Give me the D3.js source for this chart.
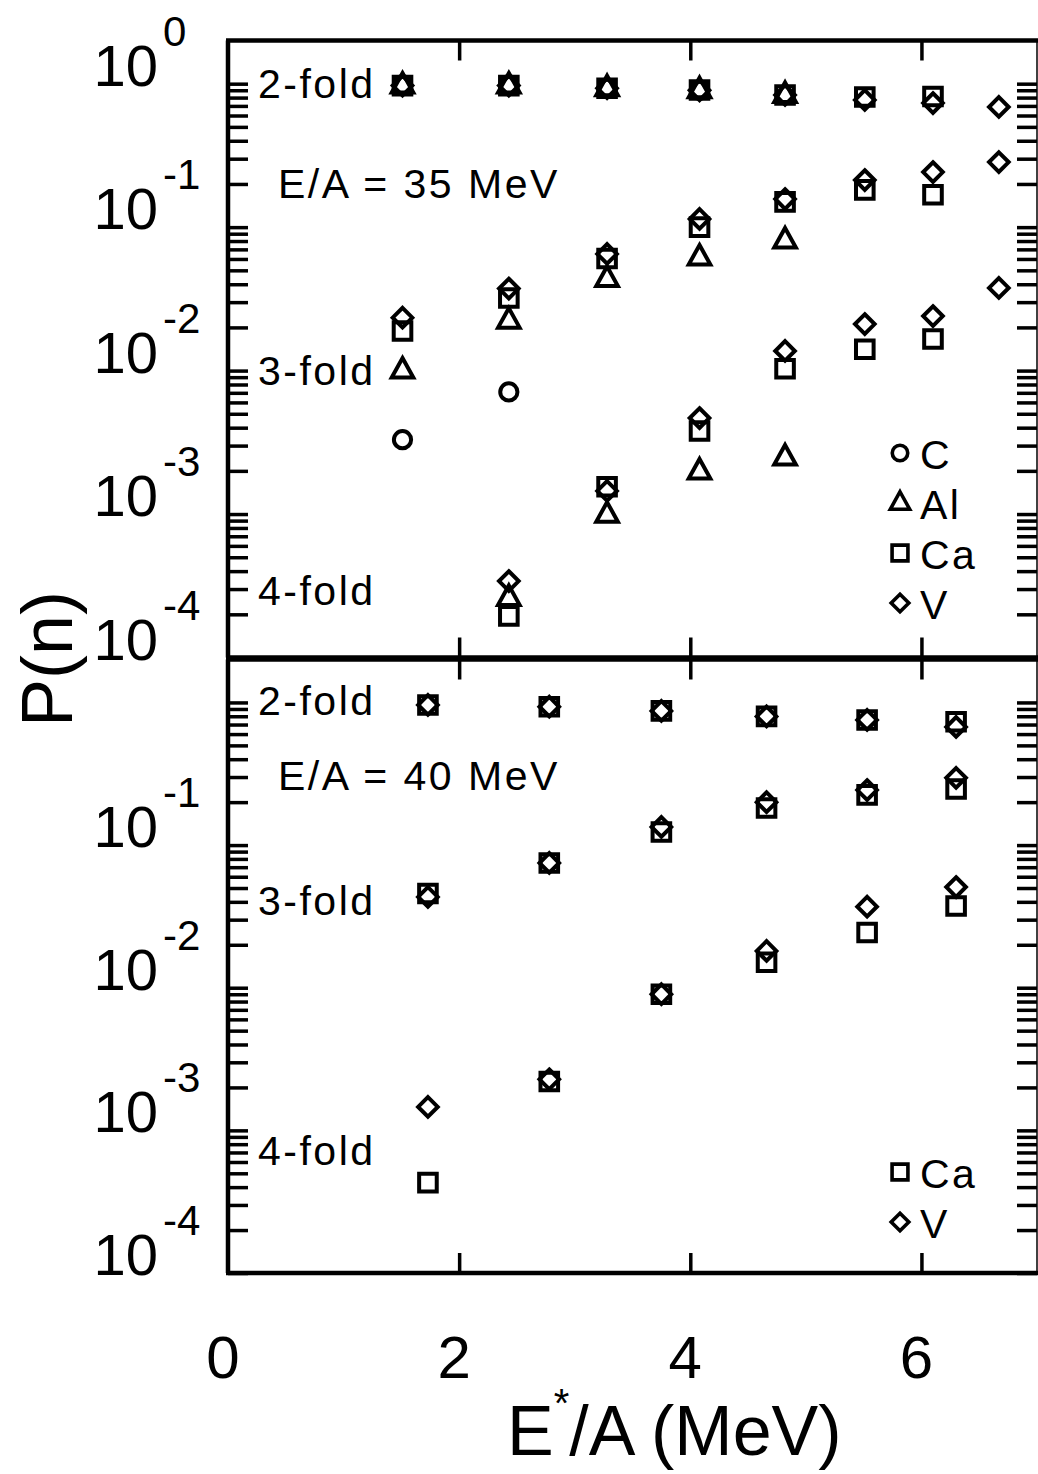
<!DOCTYPE html>
<html>
<head>
<meta charset="utf-8">
<script src="https://cdn.jsdelivr.net/npm/d3@7"></script>
<style>
  body { margin: 0; background: #fff; }
  text { font-family: "Liberation Sans", Arial, Helvetica, sans-serif; fill: #000; }
</style>
</head>
<body>
<svg id="chart" width="1038" height="1474"></svg>
<script>
// ---- E/A = 35 MeV : excitation-energy bins and fragment-multiplicity probabilities ----
const energy35 = [1.51, 2.43, 3.28, 4.08, 4.82, 5.51, 6.10, 6.67];
const c35_2  = [0.98, 0.98, 0.93, 0.90, null, null, null, null];
const c35_3  = [3.3e-3, 7.1e-3, null, null, null, null, null, null];
const al35_2 = [0.97, 0.97, 0.93, 0.90, 0.834, null, null, null];
const al35_3 = [0.0100, 0.0223, 0.0435, 0.0614, 0.0807, null, null, null];
const al35_4 = [null, 2.6e-4, 9.9e-4, 1.98e-3, 2.48e-3, null, null, null];
const ca35_2 = [0.97, 0.97, 0.93, 0.904, 0.834, 0.808, 0.814, null];
const ca35_3 = [0.0189, 0.0321, 0.0604, 0.100, 0.150, 0.182, 0.168, null];
const ca35_4 = [null, 1.95e-4, 1.55e-3, 3.79e-3, 0.0103, 0.0141, 0.0166, null];
const v35_2  = [0.97, 0.97, 0.93, 0.90, 0.834, 0.77, 0.733, 0.688];
const v35_3  = [0.0234, 0.0373, 0.065, 0.114, 0.157, 0.213, 0.242, 0.284];
const v35_4  = [null, 3.41e-4, 1.45e-3, 4.67e-3, 0.0137, 0.0211, 0.024, 0.0377];

// ---- E/A = 40 MeV ----
const energy40 = [1.73, 2.78, 3.75, 4.66, 5.53, 6.30];
const ca40_2 = [0.96, 0.933, 0.872, 0.798, 0.754, 0.733];
const ca40_3 = [0.0458, 0.0749, 0.1236, 0.182, 0.225, 0.247];
const ca40_4 = [4.3e-4, 2.2e-3, 9.0e-3, 0.0151, 0.0244, 0.0374];
const v40_2  = [0.96, 0.933, 0.872, 0.798, 0.754, 0.673];
const v40_3  = [0.0433, 0.0749, 0.134, 0.200, 0.243, 0.296];
const v40_4  = [1.46e-3, 2.28e-3, 9.0e-3, 0.0181, 0.037, 0.0508];

// ---- axis ticks and labels ----
const xTickValues = [0, 2, 4, 6];
const yLabelsTop = [1, 1e-1, 1e-2, 1e-3, 1e-4];
const yLabelsBottom = [1e-1, 1e-2, 1e-3, 1e-4];
const foldLabels = ["2-fold", "3-fold", "4-fold"];
const beamLabels = ["E/A = 35 MeV", "E/A = 40 MeV"];

const svg = d3.select("#chart");
const LEFT = 228, RIGHT = 1037;
const x = d3.scaleLinear().domain([0, 7]).range([LEFT, RIGHT]);

// hollow marker outlines, centred on the data point
function markerPath(shape) {
  const p = d3.path();
  if (shape === "square") {
    p.rect(-8.8, -8.8, 17.6, 17.6);
  } else if (shape === "diamond") {
    p.moveTo(0, -9.8); p.lineTo(9.8, 0); p.lineTo(0, 9.8); p.lineTo(-9.8, 0); p.closePath();
  } else if (shape === "triangle") {
    p.moveTo(0, -12.5); p.lineTo(10.8, 7); p.lineTo(-10.8, 7); p.closePath();
  } else {
    p.arc(0, 0, 8.6, 0, 2 * Math.PI);
  }
  return p.toString();
}

function zip(energies, values) {
  return energies.map((e, i) => ({ e, v: values[i] })).filter(d => d.v != null);
}

const panels = [
  {
    top: 40.5, bottom: 657.5, yLabels: yLabelsTop, beam: beamLabels[0],
    labelY: { fold: [98, 385, 605], beam: 198 },
    series: [
      { name: "C",  shape: "circle",   pts: [c35_2, c35_3].flatMap(a => zip(energy35, a)) },
      { name: "Al", shape: "triangle", pts: [al35_2, al35_3, al35_4].flatMap(a => zip(energy35, a)) },
      { name: "Ca", shape: "square",   pts: [ca35_2, ca35_3, ca35_4].flatMap(a => zip(energy35, a)) },
      { name: "V",  shape: "diamond",  pts: [v35_2, v35_3, v35_4].flatMap(a => zip(energy35, a)) }
    ],
    legendY: 453
  },
  {
    top: 659.5, bottom: 1273, yLabels: yLabelsBottom, beam: beamLabels[1],
    labelY: { fold: [715, 915, 1165], beam: 790 },
    series: [
      { name: "Ca", shape: "square",  pts: [ca40_2, ca40_3, ca40_4].flatMap(a => zip(energy40, a)) },
      { name: "V",  shape: "diamond", pts: [v40_2, v40_3, v40_4].flatMap(a => zip(energy40, a)) }
    ],
    legendY: 1172
  }
];

// decade and sub-decade tick values between 1e-4 and 1
const minorTicks = [];
for (let k = -4; k < 0; k++) for (let m = 1; m <= 9; m++) minorTicks.push(m * Math.pow(10, k));
minorTicks.push(1);

panels.forEach(P => {
  const y = d3.scaleLog().domain([1e-4, 2]).range([P.bottom, P.top]);
  const g = svg.append("g");

  // left and right logarithmic tick rows (inward)
  const left = d3.axisRight(y).tickValues(minorTicks).tickSize(20).tickFormat("");
  const right = d3.axisLeft(y).tickValues(minorTicks).tickSize(20).tickFormat("");
  g.append("g").attr("transform", `translate(${LEFT},0)`).call(left);
  g.append("g").attr("transform", `translate(${RIGHT},0)`).call(right);

  // x ticks on the top and bottom edges (inward)
  const xt = [2, 4, 6];
  g.append("g").attr("transform", `translate(0,${P.top})`)
    .call(d3.axisBottom(x).tickValues(xt).tickSize(20).tickFormat(""));
  g.append("g").attr("transform", `translate(0,${P.bottom})`)
    .call(d3.axisTop(x).tickValues(xt).tickSize(20).tickFormat(""));

  g.selectAll(".domain").remove();
  g.selectAll(".tick line").attr("stroke", "#000").attr("stroke-width", 3.5);

  // frame
  g.append("line").attr("x1", LEFT - 2).attr("x2", RIGHT + 1).attr("y1", P.top).attr("y2", P.top)
    .attr("stroke", "#000").attr("stroke-width", 4.5);
  g.append("line").attr("x1", LEFT - 2).attr("x2", RIGHT + 1).attr("y1", P.bottom).attr("y2", P.bottom)
    .attr("stroke", "#000").attr("stroke-width", 4.5);
  g.append("line").attr("x1", LEFT).attr("x2", LEFT).attr("y1", P.top).attr("y2", P.bottom)
    .attr("stroke", "#000").attr("stroke-width", 4.5);
  g.append("line").attr("x1", RIGHT).attr("x2", RIGHT).attr("y1", P.top).attr("y2", P.bottom)
    .attr("stroke", "#000").attr("stroke-width", 1.5);

  // y tick labels: 10 with a raised exponent
  P.yLabels.forEach(v => {
    const yy = y(v);
    g.append("text").attr("x", 158).attr("y", yy + 2).attr("text-anchor", "end")
      .attr("font-size", 58).text("10");
    g.append("text").attr("x", 163).attr("y", yy - 38)
      .attr("font-size", 42).text(String(Math.round(Math.log10(v))));
  });

  // multiplicity and beam-energy annotations
  foldLabels.forEach((t, i) => {
    g.append("text").attr("x", 258).attr("y", P.labelY.fold[i])
      .attr("font-size", 41).attr("letter-spacing", 2.5).text(t);
  });
  g.append("text").attr("x", 278).attr("y", P.labelY.beam)
    .attr("font-size", 41).attr("letter-spacing", 2.5).text(P.beam);

  // data markers
  P.series.forEach(s => {
    g.append("g").selectAll("path").data(s.pts).join("path")
      .attr("transform", d => `translate(${x(d.e)},${y(d.v)})`)
      .attr("d", markerPath(s.shape))
      .attr("fill", "none").attr("stroke", "#000").attr("stroke-width", 4);
  });

  // legend
  P.series.forEach((s, i) => {
    const ly = P.legendY + i * 50;
    g.append("path").attr("transform", `translate(900,${ly}) scale(0.9)`)
      .attr("d", markerPath(s.shape))
      .attr("fill", "none").attr("stroke", "#000").attr("stroke-width", 4);
    g.append("text").attr("x", 920).attr("y", ly + 16)
      .attr("font-size", 41).attr("letter-spacing", 2.5).text(s.name);
  });
});

// x tick labels
svg.append("g").selectAll("text").data(xTickValues).join("text")
  .attr("x", d => x(d) - 5).attr("y", 1378).attr("text-anchor", "middle")
  .attr("font-size", 60).text(d => d);

// axis titles
const xt = svg.append("text").attr("x", 507).attr("y", 1455).attr("font-size", 70);
xt.append("tspan").text("E");
xt.append("tspan").attr("font-size", 40).attr("dy", -38).text("*");
xt.append("tspan").attr("dy", 38).text("/A (MeV)");

svg.append("text").attr("transform", "translate(72,659) rotate(-90)")
  .attr("text-anchor", "middle").attr("font-size", 72).text("P(n)");
</script>
</body>
</html>
